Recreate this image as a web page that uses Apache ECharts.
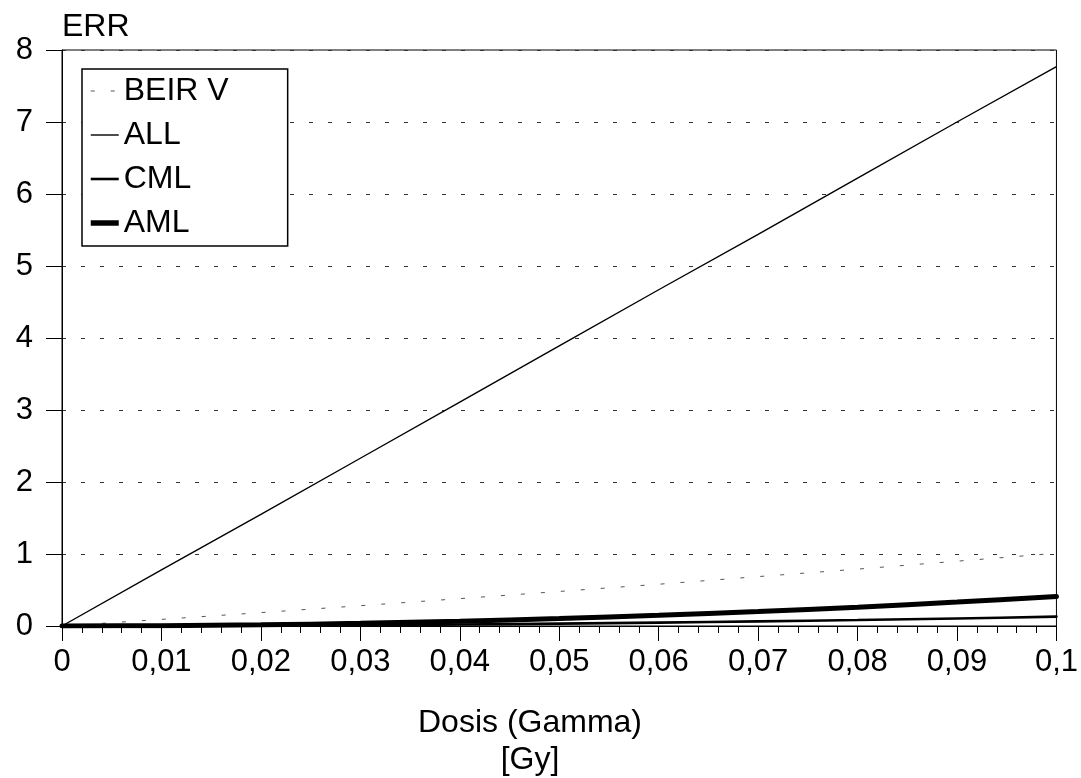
<!DOCTYPE html>
<html>
<head>
<meta charset="utf-8">
<title>ERR – Dosis (Gamma)</title>
<script src="https://cdn.jsdelivr.net/npm/echarts@6/dist/echarts.min.js"></script>
<style>
  html, body { margin: 0; padding: 0; background: #fff; }
  #chart { width: 1081px; height: 778px; }
</style>
</head>
<body>
<div id="chart"></div>
<script>
// Dose points in Gy
const dose = [0, 0.01, 0.02, 0.03, 0.04, 0.05, 0.06, 0.07, 0.08, 0.09, 0.1];

// Excess relative risk per model / leukaemia type
const beirV = [0, 0.092, 0.186, 0.282, 0.38, 0.48, 0.58, 0.686, 0.79, 0.9, 1.01];
const all   = [0, 0.78, 1.55, 2.33, 3.11, 3.89, 4.67, 5.44, 6.22, 7.0, 7.77];
const cml   = [0, 0.0013, 0.005, 0.012, 0.021, 0.033, 0.047, 0.064, 0.083, 0.105, 0.13];
const aml   = [0, 0.004, 0.016, 0.037, 0.066, 0.103, 0.148, 0.2, 0.262, 0.332, 0.41];

const seriesNames = ['BEIR V', 'ALL', 'CML', 'AML'];

const FONT = '"Liberation Sans", Arial, Helvetica, sans-serif';

const lineStyles = {
  'BEIR V': { color: '#555', width: 1, type: [4, 16] },
  'ALL':    { color: '#000', width: 1.4, type: 'solid' },
  'CML':    { color: '#000', width: 2.6, type: 'solid', cap: 'round' },
  'AML':    { color: '#000', width: 5, type: 'solid', cap: 'round' }
};

function pairs(values) {
  return dose.map((d, i) => [d, values[i]]);
}

function decimalComma(v) {
  const r = Math.round(v * 1000) / 1000;
  return String(r).replace('.', ',');
}

const chart = echarts.init(document.getElementById('chart'), null, { renderer: 'canvas' });

chart.setOption({
  animation: false,
  backgroundColor: '#fff',
  textStyle: { fontFamily: FONT, color: '#000' },
  grid: {
    left: 62, right: 23, top: 50, bottom: 152,
    show: true, borderColor: '#000', borderWidth: 1, backgroundColor: 'transparent'
  },
  legend: {
    data: seriesNames.map(n => ({
      name: n,
      itemStyle: { opacity: 0 },
      lineStyle: Object.assign({}, lineStyles[n], { cap: 'butt', width: n === 'AML' ? 5.5 : lineStyles[n].width })
    })),
    orient: 'vertical',
    left: 82, top: 69,
    padding: [5, 59, 6, 6],
    itemGap: 10,
    itemWidth: 28,
    itemHeight: 14,
    borderColor: '#000',
    borderWidth: 1.5,
    backgroundColor: '#fff',
    textStyle: { fontFamily: FONT, fontSize: 32, color: '#000', lineHeight: 34 }
  },
  xAxis: {
    type: 'value',
    min: 0, max: 0.1, interval: 0.01,
    axisLine: { show: true, onZero: false, lineStyle: { color: '#000', width: 1 } },
    axisTick: { show: true, length: 15, lineStyle: { color: '#000', width: 1 } },
    minorTick: { show: true, splitNumber: 5, length: 7, lineStyle: { color: '#000', width: 1 } },
    splitLine: { show: false },
    axisLabel: {
      margin: 21, fontSize: 31, color: '#000', fontFamily: FONT,
      formatter: decimalComma
    }
  },
  yAxis: {
    type: 'value',
    min: 0, max: 8, interval: 1,
    name: 'ERR',
    nameLocation: 'end',
    nameGap: 7,
    nameTextStyle: { fontFamily: FONT, fontSize: 32, color: '#000', align: 'left', verticalAlign: 'bottom' },
    axisLine: { show: true, lineStyle: { color: '#000', width: 1 } },
    axisTick: { show: true, length: 16, lineStyle: { color: '#000', width: 1 } },
    splitLine: { show: true, lineStyle: { color: '#333', width: 1, type: [4, 15] } },
    axisLabel: { margin: 29, fontSize: 31, color: '#000', fontFamily: FONT }
  },
  graphic: [{
    type: 'text',
    x: 530, y: 742,
    style: {
      text: 'Dosis (Gamma)\n[Gy]',
      font: '32px ' + FONT,
      fill: '#000',
      align: 'center',
      verticalAlign: 'middle',
      lineHeight: 37
    }
  }],
  series: [
    {
      name: 'BEIR V', type: 'line', symbol: 'none', data: pairs(beirV),
      lineStyle: lineStyles['BEIR V'],
      itemStyle: { color: '#555' }
    },
    {
      name: 'ALL', type: 'line', symbol: 'none', data: pairs(all),
      lineStyle: lineStyles['ALL'],
      itemStyle: { color: '#000' }
    },
    {
      name: 'CML', type: 'line', symbol: 'none', data: pairs(cml), smooth: 0.3,
      lineStyle: lineStyles['CML'],
      itemStyle: { color: '#000' }
    },
    {
      name: 'AML', type: 'line', symbol: 'none', data: pairs(aml), smooth: 0.3,
      lineStyle: lineStyles['AML'],
      itemStyle: { color: '#000' }
    }
  ]
});
</script>
</body>
</html>
